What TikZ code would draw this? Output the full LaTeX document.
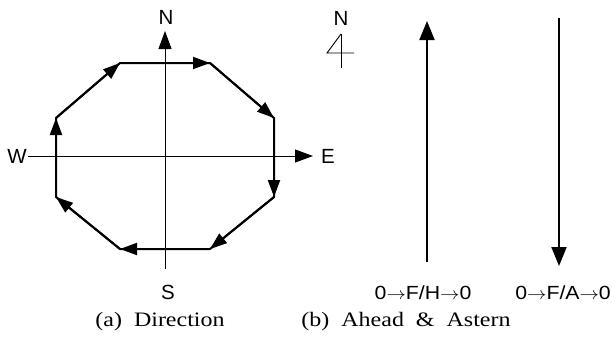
\documentclass[tikz,border=0pt]{standalone}
\usepackage{fontspec}
\usepackage{graphicx}
\setmainfont{Liberation Serif}
\setsansfont{Liberation Sans}
\usetikzlibrary{arrows.meta}
\newcommand{\rarr}{\raisebox{0.5pt}{$\rightarrow$}}
\begin{document}
\begin{tikzpicture}[x=1pt,y=-1pt,
  thinline/.style={line width=0.9pt},
  edge/.style={line width=2pt,-{Triangle[length=17pt,width=12pt]}},
  axis/.style={thinline,-{Triangle[length=18pt,width=13pt]}},
  bigarrow/.style={line width=2pt,-{Triangle[length=19pt,width=15pt]}},
  dirlbl/.style={font=\sffamily\fontsize{20.5}{22}\selectfont,inner sep=0pt},
  lbl/.style={font=\sffamily\fontsize{19}{21}\selectfont,inner sep=0pt},
  captext/.style={font=\rmfamily\fontsize{20.5}{23}\selectfont,inner sep=0pt}]
\useasboundingbox (0,0) rectangle (612,338);
% octagon vertices
\coordinate (v1) at (120,63);
\coordinate (v2) at (210,63);
\coordinate (v3) at (274,118);
\coordinate (v4) at (274,197);
\coordinate (v5) at (210,249);
\coordinate (v6) at (120,249);
\coordinate (v7) at (56,197);
\coordinate (v8) at (56,118);
% axes
\coordinate (ntop) at (165,31);
\coordinate (sbot) at (165,269);
\coordinate (wl) at (28,156);
\coordinate (er) at (313,156);
\draw[axis] (sbot) -- (ntop);
\draw[axis] (wl) -- (er);
\node[dirlbl] (N) at (166,17) {N};
\node[dirlbl] (S) at (168,292) {S};
\node[dirlbl] (W) at (17,156) {W};
\node[dirlbl] (E) at (328,156) {E};
% octagon
\draw[line width=2pt,line join=miter] (v1)--(v2)--(v3)--(v4)--(v5)--(v6)--(v7)--(v8)--cycle;
\draw[edge] (v1) -- (v2);
\draw[edge] (v2) -- (v3);
\draw[edge] (v3) -- (v4);
\draw[edge] (v4) -- (v5);
\draw[edge] (v5) -- (v6);
\draw[edge] (v6) -- (v7);
\draw[edge] (v7) -- (v8);
\draw[edge] (v8) -- (v1);
% compass symbol
\node[dirlbl] (N2) at (341,18) {N};
\coordinate (ct) at (341,34);
\coordinate (cb) at (341,68);
\coordinate (cl) at (327,53);
\coordinate (cr) at (354,53);
\draw[thinline] (ct) -- (cb);
\draw[thinline] (ct) -- (cl) -- (cr);
% ahead / astern
\coordinate (a1) at (427,262);
\coordinate (a2) at (427,21);
\coordinate (b1) at (559,18);
\coordinate (b2) at (559,266);
\draw[bigarrow] (a1) -- (a2);
\draw[bigarrow] (b1) -- (b2);
\node[lbl] (L1) at (423,293) {\scalebox{1.12}[1]{0\rarr F/H\rarr 0}};
\node[lbl,anchor=east] (L2) at (611,293) {\scalebox{1.12}[1]{0\rarr F/A\rarr 0}};
% captions
\node[captext] (ca) at (160,322) {\scalebox{1.17}[1]{(a)\ \ Direction}};
\node[captext] (cb2) at (406,322) {\scalebox{1.17}[1]{(b)\ \ Ahead\ \ \&\ \ Astern}};
\end{tikzpicture}
\end{document}
